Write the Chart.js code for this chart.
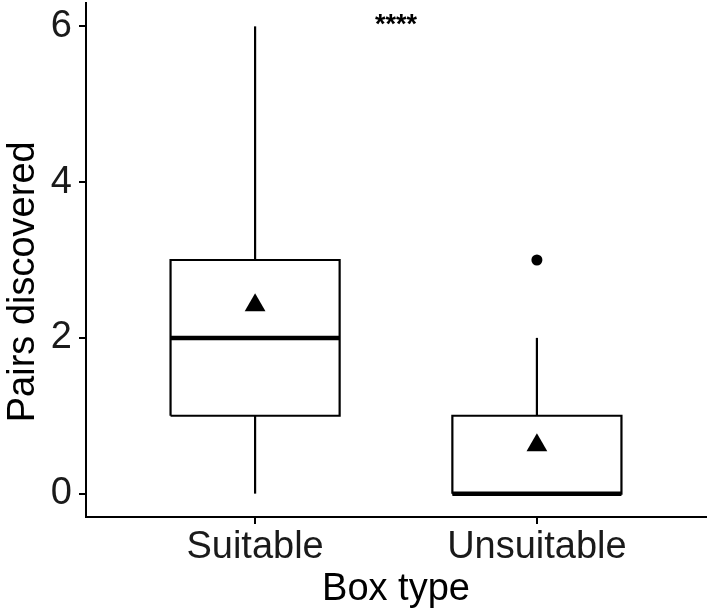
<!DOCTYPE html>
<html>
<head>
<meta charset="utf-8">
<script src="https://cdn.jsdelivr.net/npm/chart.js@4.4.1/dist/chart.umd.min.js"></script>
<style>
  html, body { margin: 0; padding: 0; background: #fff; }
  #wrap { width: 709px; height: 613px; }
</style>
</head>
<body>
<div id="wrap"><canvas id="chart"></canvas></div>
<script>
/* ── Data ─────────────────────────────────────────────────── */
const categories  = ['Suitable', 'Unsuitable'];
const whiskerLow  = [0, 0];
const q1          = [1, 0];
const median      = [2, 0];
const q3          = [3, 1];
const whiskerHigh = [6, 2];
const means       = [2.42, 0.62];
const outliers    = [[], [3]];
const yTicks      = [0, 2, 4, 6];
const signifLabel = '****';
const signifY     = 6.12;
const yTitle      = 'Pairs discovered';

const BOX_HALF = 0.3;   // ggplot default box width 0.6
const FONT = 'Liberation Sans, Arial, sans-serif';

const datasets = [];
const line = (pts, width) => ({
  data: pts, showLine: true, borderColor: '#000', borderWidth: width,
  pointRadius: 0, pointHoverRadius: 0, fill: false, tension: 0,
  borderCapStyle: 'butt', borderJoinStyle: 'miter', clip: false
});

categories.forEach((c, i) => {
  const x = i + 1;
  // whiskers
  datasets.push(line([{ x, y: q3[i] }, { x, y: whiskerHigh[i] }], 2.2));
  datasets.push(line([{ x, y: whiskerLow[i] }, { x, y: q1[i] }], 2.2));
  // box
  datasets.push(line([
    { x: x - BOX_HALF, y: q1[i] }, { x: x + BOX_HALF, y: q1[i] },
    { x: x + BOX_HALF, y: q3[i] }, { x: x - BOX_HALF, y: q3[i] },
    { x: x - BOX_HALF, y: q1[i] }
  ], 2.2));
  // median
  datasets.push(line([{ x: x - BOX_HALF, y: median[i] }, { x: x + BOX_HALF, y: median[i] }], 4.5));
});

// outliers
datasets.push({
  data: outliers.flatMap((o, i) => o.map(v => ({ x: i + 1, y: v }))),
  pointStyle: 'circle', pointRadius: 5.5, backgroundColor: '#000', borderColor: '#000',
  borderWidth: 0, showLine: false, clip: false
});

// means
datasets.push({
  data: means.map((m, i) => ({ x: i + 1, y: m })),
  pointStyle: 'triangle', pointRadius: 12, backgroundColor: '#000', borderColor: '#000',
  borderWidth: 0, showLine: false, clip: false
});

// significance label between the groups + y title (sits a bit below centre in the original)
const annotPlugin = {
  id: 'annot',
  afterDatasetsDraw(chart) {
    const { ctx, scales } = chart;
    const size = 27;
    ctx.save();
    ctx.fillStyle = '#000';
    ctx.font = 'bold ' + size + 'px ' + FONT;
    ctx.textAlign = 'center';
    ctx.textBaseline = 'alphabetic';
    ctx.fillText(signifLabel, scales.x.getPixelForValue(1.5), scales.y.getPixelForValue(signifY) + size * 0.58);

    ctx.font = '38px ' + FONT;
    ctx.translate(34, scales.y.getPixelForValue(2.72));
    ctx.rotate(-Math.PI / 2);
    ctx.fillText(yTitle, 0, 0);
    ctx.restore();
  }
};

new Chart(document.getElementById('chart'), {
  type: 'scatter',
  data: { datasets },
  options: {
    responsive: true,
    maintainAspectRatio: false,
    animation: false,
    layout: { autoPadding: false, padding: { top: 3, right: 3, left: 0, bottom: 0 } },
    plugins: { legend: { display: false }, tooltip: { enabled: false } },
    scales: {
      x: {
        type: 'linear', min: 0.4, max: 2.6,
        afterBuildTicks: s => { s.ticks = categories.map((c, i) => ({ value: i + 1 })); },
        afterFit: s => { s.height = 96; s.paddingLeft = 0; s.paddingRight = 0; },
        grid: { display: true, drawOnChartArea: false, drawTicks: true, tickLength: 7, color: '#000', lineWidth: 2 },
        border: { display: true, color: '#000', width: 2 },
        ticks: {
          color: '#1a1a1a', padding: 1, maxRotation: 0, autoSkip: false,
          font: { family: FONT, size: 38 },
          callback: v => categories[Math.round(v) - 1]
        },
        title: {
          display: true, text: 'Box type', color: '#000',
          font: { family: FONT, size: 38 }, padding: { top: 0, bottom: 1 }
        }
      },
      y: {
        type: 'linear', min: -0.3, max: 6.3,
        afterBuildTicks: s => { s.ticks = yTicks.map(v => ({ value: v })); },
        afterFit: s => { s.width = 86; s.paddingTop = 0; s.paddingBottom = 0; },
        grid: { display: true, drawOnChartArea: false, drawTicks: true, tickLength: 7, color: '#000', lineWidth: 2 },
        border: { display: true, color: '#000', width: 2 },
        ticks: {
          color: '#1a1a1a', padding: 7,
          font: { family: FONT, size: 38 }
        },
        title: { display: false }
      }
    }
  },
  plugins: [annotPlugin]
});
</script>
</body>
</html>
